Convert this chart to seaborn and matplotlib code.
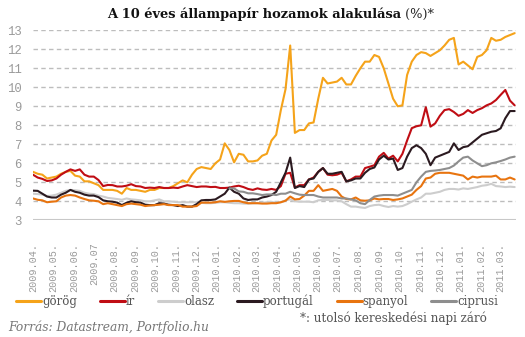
import numpy as np
import pandas as pd
import matplotlib
matplotlib.use("Agg")
import matplotlib.pyplot as plt
import matplotlib.dates as mdates
import seaborn as sns

# ---------------- data (weekly readings, %) ----------------
start_date = "2009-04-01"
n_weeks = 104
series_names = ["görög", "ír", "olasz", "portugál", "spanyol", "ciprusi"]
series_colors = ["#F5A31A", "#C00D14", "#CDCDCD", "#2B1A20", "#E8740F", "#8E8E8E"]

gorog = [5.55,5.45,5.4,5.2,5.25,5.3,5.45,5.55,5.6,5.35,5.3,5.05,5.05,4.95,4.85,4.6,4.6,4.6,4.55,4.4,4.7,4.6,4.6,4.55,4.5,4.6,
         4.6,4.7,4.7,4.7,4.8,4.95,5.1,5.0,5.4,5.7,5.8,5.75,5.7,6.0,6.2,7.05,6.7,6.05,6.5,6.45,6.1,6.1,6.15,6.4,6.5,7.2,
         7.5,8.8,9.9,12.2,7.6,7.75,7.75,8.1,8.15,9.4,10.5,10.2,10.25,10.3,10.5,10.15,10.15,10.6,11.0,11.35,11.35,11.7,11.6,11.0,10.2,
         9.4,9.0,9.05,10.65,11.35,11.7,11.85,11.8,11.65,11.8,11.95,12.2,12.5,12.6,11.2,11.35,11.15,10.95,11.6,11.7,11.95,12.6,12.45,12.5,12.65,12.75,12.85]
ir = [5.4,5.25,5.18,5.07,5.1,5.2,5.4,5.55,5.68,5.6,5.68,5.4,5.3,5.3,5.12,4.8,4.86,4.85,4.78,4.78,4.82,4.9,4.8,4.78,4.7,4.72,
      4.7,4.75,4.7,4.7,4.72,4.7,4.78,4.85,4.8,4.75,4.78,4.78,4.75,4.76,4.7,4.7,4.72,4.78,4.82,4.75,4.65,4.6,4.68,4.62,4.6,4.65,
      4.6,4.8,5.45,5.5,4.72,4.85,4.85,5.15,5.25,5.55,5.75,5.4,5.37,5.4,5.5,5.05,5.15,5.3,5.3,5.75,5.82,5.9,6.35,6.55,6.25,
      6.4,6.1,6.5,7.2,7.85,7.95,8.0,8.95,7.93,8.1,8.5,8.8,8.85,8.7,8.5,8.6,8.8,8.65,8.8,8.9,9.05,9.15,9.33,9.6,9.86,9.3,9.05]
olasz = [4.4,4.38,4.35,4.28,4.3,4.35,4.45,4.55,4.6,4.58,4.55,4.45,4.4,4.38,4.3,4.25,4.18,4.15,4.12,4.08,4.15,4.1,4.08,4.05,4.0,4.0,
         4.05,4.1,4.0,4.0,3.98,3.95,3.95,3.95,3.95,3.95,3.92,3.9,3.9,3.92,3.95,3.95,3.92,3.9,3.9,3.88,3.87,3.9,3.9,3.92,3.95,3.97,
         3.92,3.95,4.05,4.1,4.0,3.98,3.98,3.98,3.95,4.05,4.07,4.07,4.05,4.05,4.0,3.85,3.72,3.72,3.68,3.65,3.75,3.8,3.82,3.75,3.7,
         3.75,3.72,3.75,3.85,3.98,4.1,4.2,4.4,4.4,4.45,4.5,4.6,4.65,4.65,4.62,4.68,4.65,4.7,4.75,4.82,4.85,4.92,4.8,4.78,4.75,4.77,4.75]
portugal = [4.56,4.55,4.4,4.25,4.2,4.2,4.35,4.45,4.6,4.5,4.45,4.35,4.3,4.3,4.22,4.05,4.0,3.98,3.93,3.8,3.92,4.0,3.95,3.93,3.82,3.8,
            3.8,3.9,3.88,3.82,3.8,3.75,3.8,3.72,3.72,3.85,4.05,4.07,4.07,4.1,4.25,4.4,4.72,4.5,4.4,4.15,4.07,4.1,4.1,4.2,4.25,4.33,
            4.5,5.0,5.5,6.3,4.7,4.8,4.75,5.15,5.2,5.55,5.75,5.45,5.45,5.5,5.55,5.05,5.1,5.2,5.2,5.5,5.7,5.78,6.2,6.4,6.2,
            6.25,5.65,5.75,6.35,6.8,6.95,6.8,6.5,5.9,6.3,6.4,6.5,6.6,7.05,6.7,6.85,6.9,7.1,7.3,7.5,7.58,7.66,7.7,7.84,8.37,8.75,8.75]
spanyol = [4.15,4.08,4.05,3.95,3.98,4.0,4.2,4.3,4.33,4.3,4.2,4.12,4.05,4.03,4.0,3.85,3.9,3.85,3.8,3.75,3.85,3.88,3.85,3.82,3.75,3.78,
           3.8,3.82,3.85,3.8,3.8,3.8,3.72,3.72,3.72,3.75,3.93,3.93,3.93,3.95,4.0,3.97,4.0,4.02,4.02,3.95,3.9,3.9,3.9,3.88,3.88,3.9,
           3.9,3.95,4.03,4.25,4.1,4.12,4.3,4.55,4.55,4.85,4.55,4.6,4.65,4.55,4.25,4.12,4.1,4.2,4.05,4.03,4.05,4.15,4.1,4.12,4.12,
           4.07,4.1,4.15,4.25,4.35,4.6,4.8,5.2,5.25,5.45,5.5,5.5,5.5,5.45,5.4,5.35,5.15,5.3,5.25,5.3,5.3,5.3,5.35,5.15,5.15,5.25,5.15]
ciprusi = [None]*42 + [4.68,4.68,4.52,4.5,4.42,4.42,4.38,4.33,4.36,4.36,
           4.33,4.4,4.4,4.5,4.42,4.35,4.33,4.33,4.33,4.25,4.2,4.2,4.2,4.2,4.15,4.15,4.1,4.05,3.9,3.85,4.07,4.25,4.3,4.33,4.33,
           4.33,4.3,4.4,4.5,4.6,5.0,5.3,5.55,5.6,5.62,5.65,5.7,5.75,5.88,6.1,6.3,6.35,6.15,6.0,5.85,5.9,6.0,6.05,6.12,6.2,6.3,6.35]

tick_labels = ["2009.04.", "2009.05.", "2009.06.", "2009.07", "2009.08.", "2009.09.", "2009.10.", "2009.11.",
               "2009.12.", "2010.01.", "2010.02.", "2010.03.", "2010.04.", "2010.05.", "2010.06.", "2010.07.",
               "2010.08.", "2010.09.", "2010.10.", "2010.11.", "2010.12.", "2011.01.", "2011.02.", "2011.03."]
y_ticks = list(range(3, 14))

title_bold = "A 10 éves állampapír hozamok alakulása"
title_rest = " (%)*"
source_text = "Forrás: Datastream, Portfolio.hu"
note_text = "*: utolsó kereskedési napi záró"

# ---------------- build frame ----------------
dates = pd.date_range(start_date, periods=n_weeks, freq="7D")
values = [gorog, ir, olasz, portugal, spanyol, ciprusi]
frames = []
for name, vals in zip(series_names, values):
    frames.append(pd.DataFrame({"date": dates, "hozam": pd.array(vals, dtype="float"), "ország": name}))
df = pd.concat(frames, ignore_index=True)

# ---------------- plot ----------------
sns.set_theme(style="white")
plt.rcParams["font.family"] = ["DejaVu Sans"]

fig = plt.figure(figsize=(5.25, 3.37), dpi=100)
ax = fig.add_axes([33/525, 1 - 220.3/337, (516 - 33)/525, (220.3 - 30.3)/337])

sns.lineplot(data=df, x="date", y="hozam", hue="ország", hue_order=series_names,
             palette=dict(zip(series_names, series_colors)), linewidth=1.5,
             ax=ax, legend=False, estimator=None, sort=False)

ax.set_ylim(3, 13)
ax.set_xlim(pd.Timestamp("2009-04-01"), pd.Timestamp("2011-03-25"))
ax.set_xlabel("")
ax.set_ylabel("")
for s in ax.spines.values():
    s.set_visible(False)

# gridlines
for yv in y_ticks[1:]:
    ax.axhline(yv, color="#BDBDBD", lw=1.0, ls=(0, (3.2, 2.4)), zorder=0)
ax.axhline(3, color="#C8C8C8", lw=1.5, zorder=0)

ax.set_yticks(y_ticks)
ax.set_yticklabels([str(v) for v in y_ticks], family="Liberation Mono", fontsize=8.8, color="#9A9A9A")
tick_dates = pd.date_range("2009-04-01", periods=len(tick_labels), freq="MS")
ax.set_xticks(tick_dates)
ax.set_xticklabels(tick_labels, rotation=90, family="Liberation Mono", fontsize=7.3, color="#9A9A9A")
ax.tick_params(axis="y", length=0, pad=8)
ax.tick_params(axis="x", length=0, pad=16)

# legend
handles = [plt.Line2D([], [], color=c, lw=2.2) for c in series_colors]
leg = fig.legend(handles, series_names, loc="center left", bbox_to_anchor=(16/525, 1 - 301/337),
                 ncol=6, frameon=False, handlelength=2.1, handletextpad=0.1, columnspacing=1.95,
                 borderaxespad=0, borderpad=0,
                 prop={"family": "DejaVu Serif", "size": 8.5})
for t in leg.get_texts():
    t.set_color("#555555")

# title
t1 = fig.text(0.5, 1 - 14/337, title_bold, ha="center", va="center",
              family="DejaVu Serif", fontweight="bold", fontsize=9.4, color="#111111")
fig.canvas.draw()
bb = t1.get_window_extent()
t1.set_x((268 - 14) / 525)
ax.annotate(title_rest, xy=(1, 0), xycoords=t1, va="bottom", ha="left",
            family="DejaVu Serif", fontsize=9.4, color="#222222")

fig.text(8/525, 1 - 327/337, source_text, ha="left", va="center", family="DejaVu Serif",
         style="italic", fontsize=8.8, color="#777777")
fig.text(393/525, 1 - 318/337, note_text, ha="center", va="center", family="DejaVu Serif",
         fontsize=8.6, color="#555555")

fig.savefig("out.png", dpi=100)
